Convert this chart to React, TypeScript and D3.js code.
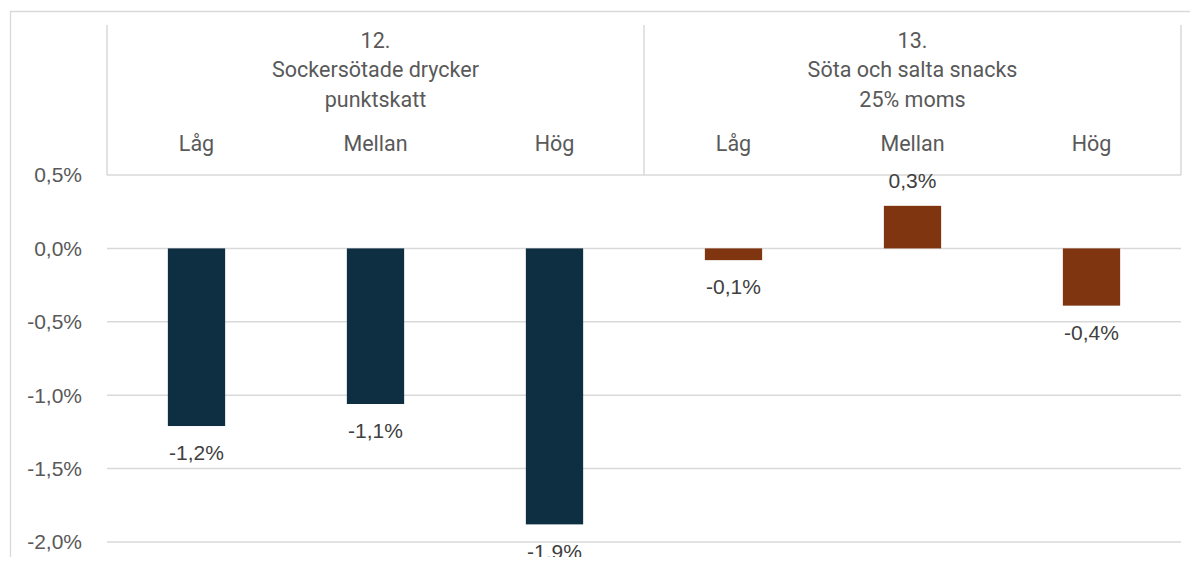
import React from "react";
import * as d3 from "d3";

const categories = ["Låg", "Mellan", "Hög", "Låg", "Mellan", "Hög"];
const groupOf = [0, 0, 0, 1, 1, 1];
const values = [-1.21, -1.06, -1.88, -0.08, 0.29, -0.39];
const valueLabels = ["-1,2%", "-1,1%", "-1,9%", "-0,1%", "0,3%", "-0,4%"];
const groupTitles = [
  ["12.", "Sockersötade drycker", "punktskatt"],
  ["13.", "Söta och salta snacks", "25% moms"],
];
const groupColors = ["#0E2F42", "#7F3510"];
const yTicks = [0.5, 0, -0.5, -1, -1.5, -2];
const yTickLabels = ["0,5%", "0,0%", "-0,5%", "-1,0%", "-1,5%", "-2,0%"];

export default function App() {
  const W = 1198, H = 565;
  const left = 107, right = 1181;
  const y = d3.scaleLinear().domain([-2, 0.5]).range([542, 175]);
  const x = d3.scaleBand<number>().domain(d3.range(categories.length)).range([left, right]).paddingInner(0.68).paddingOuter(0.34);
  const band = d3.scaleBand<number>().domain(d3.range(categories.length)).range([left, right]);
  const grid = "#d9d9d9";
  const text = "#595959";
  const headerTop = 25;
  const divX = band(3)!;
  return (
    <div style={{ margin: -8 }}>
      <svg width={W} height={H} style={{ display: "block" }}>
        <rect width={W} height={H} fill="#fff" />
        <path d={`M10.5,${H} V11.5 H${W}`} fill="none" stroke={grid} strokeWidth={1.3} />
        {yTicks.map((t, i) => (
          <g key={i}>
            <line x1={left} x2={right} y1={y(t)} y2={y(t)} stroke={grid} strokeWidth={1.5} />
            <text x={82} y={y(t)} dy="0.35em" textAnchor="end" fontFamily="Liberation Sans, Arial, sans-serif" fontSize={21} fill={text}>
              {yTickLabels[i]}
            </text>
          </g>
        ))}
        {/* header box */}
        <line x1={left} x2={left} y1={headerTop} y2={y(0.5)} stroke={grid} strokeWidth={1.5} />
        <line x1={divX} x2={divX} y1={headerTop} y2={y(0.5)} stroke={grid} strokeWidth={1.5} />
        <line x1={right} x2={right} y1={headerTop} y2={y(0.5)} stroke={grid} strokeWidth={1.5} />
        {groupTitles.map((lines, g) => {
          const cx = (band(g * 3)! + band(g * 3 + 2)! + band.bandwidth()) / 2;
          return lines.map((l, j) => (
            <text key={`${g}-${j}`} x={cx} y={40 + j * 29.5} dy="0.35em" textAnchor="middle" fontFamily="Roboto, sans-serif" fontSize={21.5} fill={text}>
              {l}
            </text>
          ));
        })}
        {categories.map((c, i) => (
          <text key={i} x={band(i)! + band.bandwidth() / 2} y={143} dy="0.35em" textAnchor="middle" fontFamily="Roboto, sans-serif" fontSize={21.5} fill={text}>
            {c}
          </text>
        ))}
        {values.map((v, i) => {
          const y0 = y(Math.max(0, v)), y1 = y(Math.min(0, v));
          const cx = x(i)! + x.bandwidth() / 2;
          const ly = v < 0 ? y1 + 27 : y0 - 25;
          return (
            <g key={i}>
              <rect x={x(i)} y={y0} width={x.bandwidth()} height={y1 - y0} fill={groupColors[groupOf[i]]} />
              <text x={cx} y={ly} dy="0.35em" textAnchor="middle" fontFamily="Liberation Sans, Arial, sans-serif" fontSize={21} fill="#404040">
                {valueLabels[i]}
              </text>
            </g>
          );
        })}
      </svg>
    </div>
  );
}
